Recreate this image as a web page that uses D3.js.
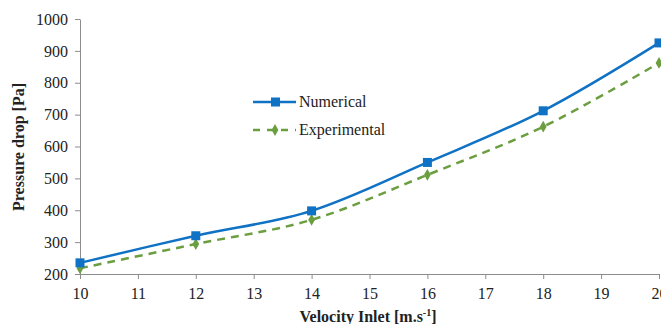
<!DOCTYPE html>
<html>
<head>
<meta charset="utf-8">
<script src="https://cdn.jsdelivr.net/npm/d3@7"></script>
<style>
  body { margin: 0; background: #fff; }
</style>
</head>
<body>
<svg width="661" height="324"></svg>
<script>
var velocity = [10, 12, 14, 16, 18, 20];
var numerical = [235, 320, 398, 550, 712, 925];
var experimental = [218, 294, 370, 511, 662, 862];
var xTicks = [10, 11, 12, 13, 14, 15, 16, 17, 18, 19, 20];
var yTicks = [200, 300, 400, 500, 600, 700, 800, 900, 1000];

var serif = "'Liberation Serif', 'Times New Roman', 'DejaVu Serif', serif";
var svg = d3.select("svg");

//plot area, the right end runs off the picture like the original
var x = d3.scaleLinear().domain([10, 20]).range([80, 659]);
var y = d3.scaleLinear().domain([200, 1000]).range([274, 19]);

function styleAxis(g) {
  g.attr("font-family", serif).attr("font-size", 16);
  g.selectAll("path, line").attr("stroke", "#8c8c8c");
  g.selectAll("text").attr("fill", "#222");
}

svg.append("g")
  .attr("transform", "translate(0,274)")
  .call(d3.axisBottom(x).tickValues(xTicks).tickFormat(d3.format("d")).tickSize(5).tickSizeOuter(0).tickPadding(6))
  .call(styleAxis)
  .selectAll("text").attr("dy", "0.85em");

svg.append("g")
  .attr("transform", "translate(80,0)")
  .call(d3.axisLeft(y).tickValues(yTicks).tickFormat(d3.format("d")).tickSize(5).tickSizeOuter(0).tickPadding(7))
  .call(styleAxis);

//smooth lines like excel
var line = d3.line()
  .x(function(d) { return x(d[0]); })
  .y(function(d) { return y(d[1]); })
  .curve(d3.curveCardinal.tension(0));

var numData = velocity.map(function(v, i) { return [v, numerical[i]]; });
var expData = velocity.map(function(v, i) { return [v, experimental[i]]; });

svg.append("path")
  .datum(expData)
  .attr("d", line)
  .attr("fill", "none")
  .attr("stroke", "#6a9e3f")
  .attr("stroke-width", 2.5)
  .attr("stroke-dasharray", "8,6");

svg.append("path")
  .datum(numData)
  .attr("d", line)
  .attr("fill", "none")
  .attr("stroke", "#0f72c4")
  .attr("stroke-width", 2.5);

var diamond = d3.symbol().type(d3.symbolDiamond).size(40);

svg.selectAll(".exp-pt")
  .data(expData)
  .enter()
  .append("path")
  .attr("class", "exp-pt")
  .attr("d", diamond)
  .attr("transform", function(d) { return "translate(" + x(d[0]) + "," + y(d[1]) + ")"; })
  .attr("fill", "#6a9e3f");

svg.selectAll(".num-pt")
  .data(numData)
  .enter()
  .append("rect")
  .attr("class", "num-pt")
  .attr("x", function(d) { return x(d[0]) - 4.5; })
  .attr("y", function(d) { return y(d[1]) - 4.5; })
  .attr("width", 9)
  .attr("height", 9)
  .attr("fill", "#0f72c4");

//legend
var legend = svg.append("g").attr("font-family", serif).attr("font-size", 16);
legend.append("line")
  .attr("x1", 253).attr("x2", 296).attr("y1", 102).attr("y2", 102)
  .attr("stroke", "#0f72c4").attr("stroke-width", 2.5);
legend.append("rect")
  .attr("x", 271).attr("y", 97.5).attr("width", 9).attr("height", 9)
  .attr("fill", "#0f72c4");
legend.append("text")
  .attr("x", 299).attr("y", 107)
  .attr("fill", "#222")
  .text("Numerical");

legend.append("line")
  .attr("x1", 253).attr("x2", 296).attr("y1", 130).attr("y2", 130)
  .attr("stroke", "#6a9e3f").attr("stroke-width", 2.5)
  .attr("stroke-dasharray", "7,7");
legend.append("path")
  .attr("d", diamond)
  .attr("transform", "translate(275,130)")
  .attr("fill", "#6a9e3f");
legend.append("text")
  .attr("x", 299).attr("y", 135)
  .attr("fill", "#222")
  .text("Experimental");

//axis titles
svg.append("text")
  .attr("transform", "translate(24,147) rotate(-90)")
  .attr("text-anchor", "middle")
  .attr("font-family", serif).attr("font-size", 16).attr("font-weight", "bold").attr("fill", "#222")
  .text("Pressure drop [Pa]");

var xt = svg.append("text")
  .attr("x", 368).attr("y", 322)
  .attr("text-anchor", "middle")
  .attr("font-family", serif).attr("font-size", 16).attr("font-weight", "bold").attr("fill", "#222");
xt.append("tspan").text("Velocity Inlet  [m.s");
xt.append("tspan").attr("dy", -6).attr("font-size", 10).text("-1");
xt.append("tspan").attr("dy", 6).text("]");
</script>
</body>
</html>
